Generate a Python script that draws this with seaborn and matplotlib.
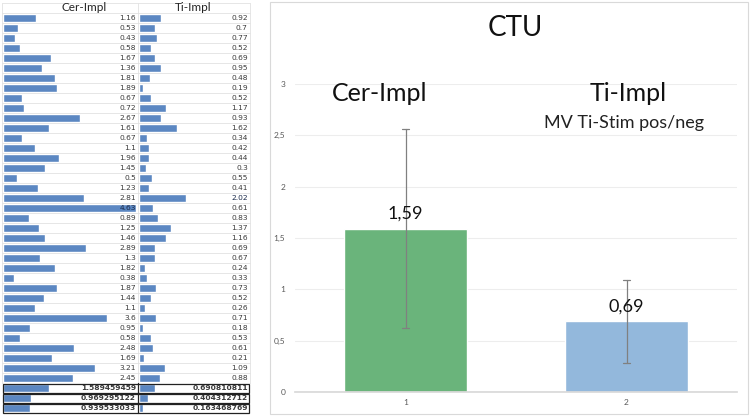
import numpy as np
import pandas as pd
import seaborn as sns
import matplotlib.pyplot as plt
from matplotlib.patches import Rectangle
from matplotlib.lines import Line2D
from matplotlib.ticker import FuncFormatter

cer_impl = [1.16, 0.53, 0.43, 0.58, 1.67, 1.36, 1.81, 1.89, 0.67, 0.72,
            2.67, 1.61, 0.67, 1.1, 1.96, 1.45, 0.5, 1.23, 2.81, 4.63,
            0.89, 1.25, 1.46, 2.89, 1.3, 1.82, 0.38, 1.87, 1.44, 1.1,
            3.6, 0.95, 0.58, 2.48, 1.69, 3.21, 2.45]
ti_impl = [0.92, 0.7, 0.77, 0.52, 0.69, 0.95, 0.48, 0.19, 0.52, 1.17,
           0.93, 1.62, 0.34, 0.42, 0.44, 0.3, 0.55, 0.41, 2.02, 0.61,
           0.83, 1.37, 1.16, 0.69, 0.67, 0.24, 0.33, 0.73, 0.52, 0.26,
           0.71, 0.18, 0.53, 0.61, 0.21, 1.09, 0.88]
cer_stats = [1.589459459, 0.969295122, 0.939533033]
ti_stats = [0.690810811, 0.404312712, 0.163468769]
col_names = ['Cer-Impl', 'Ti-Impl']
groups = ['1', '2']

sns.set_theme(style='white')
plt.rcParams['font.family'] = ['Lato', 'DejaVu Sans']

W, H = 750, 417
fig = plt.figure(figsize=(7.5, 4.17), dpi=100)


def px_axes(x0, y0, x1, y1):
    return fig.add_axes([x0 / W, 1 - y1 / H, (x1 - x0) / W, (y1 - y0) / H])


def fig_line(x0, y0, x1, y1, color='#E2E2E2', lw=0.6):
    fig.add_artist(Line2D([x0 / W, x1 / W], [1 - y0 / H, 1 - y1 / H],
                          transform=fig.transFigure, color=color, lw=lw))


# ---- left: spreadsheet with data bars ----
n = len(cer_impl)
tbl_blue = '#5B87C2'
for k in range(n + 1):
    fig_line(2, 13 + 10 * k, 250, 13 + 10 * k)
for x in [2, 137.5, 249.5]:
    fig_line(x, 3, x, 383)
fig_line(2, 3, 250, 3)

columns = [(cer_impl + cer_stats, 3, 137, 4.66, 0.992),
           (ti_impl + ti_stats, 139, 250, 4.74, 0.98)]
for (vals, x0, x1, xmax, tx) in columns:
    ax = px_axes(x0, 13, x1, 413)
    d = pd.DataFrame({'row': np.arange(len(vals)), 'val': vals})
    sns.barplot(data=d, x='val', y='row', orient='h', color=tbl_blue,
                width=0.78, saturation=1, ax=ax)
    ax.set_xlim(0, xmax)
    ax.set_ylim(len(vals) - 0.5, -0.5)
    ax.axis('off')
    for i, v in enumerate(vals):
        if i < n:
            s, w = f'{v:g}', 'normal'
        else:
            s, w = f'{v:.9f}', 'bold'
        c = '#1A2A4A' if v == max(vals) else '#3A3A3A'
        ax.text(tx, i, s, transform=ax.get_yaxis_transform(), ha='right',
                va='center', fontsize=5.4, fontweight=w, color=c,
                family='DejaVu Sans', zorder=5)

for k in range(3):
    y0 = 383.5 + 10 * k
    fig.add_artist(Rectangle((2.5 / W, 1 - (y0 + 9.5) / H), 246 / W, 9.5 / H,
                             transform=fig.transFigure, fill=False,
                             edgecolor='#222222', lw=0.9))
fig_line(137.5, 383, 137.5, 413, color='#222222', lw=0.9)

fig.text(84 / W, 1 - 7.5 / H, col_names[0], ha='center', va='center',
         fontsize=8.5, color='#222222')
fig.text(193 / W, 1 - 7.5 / H, col_names[1], ha='center', va='center',
         fontsize=8.5, color='#222222')

# ---- right: bar chart ----
fig.add_artist(Rectangle((270 / W, 1 - 414 / H), 478 / W, 412 / H,
                         transform=fig.transFigure, fill=False,
                         edgecolor='#D9D9D9', lw=0.8))

df = pd.DataFrame({'group': [groups[0]] * n + [groups[1]] * n,
                   'value': cer_impl + ti_impl})
ax = px_axes(295, 84, 737, 392)
sns.barplot(data=df, x='group', y='value', hue='group',
            palette=['#6AB47B', '#93B8DC'], errorbar='sd', capsize=0.035,
            width=0.56, saturation=1, legend=False,
            err_kws={'color': '#808080', 'linewidth': 0.9}, ax=ax)
ax.set_ylim(0, 3)
ax.set_xlim(-0.5, 1.5)
ax.set_yticks(np.arange(0, 3.01, 0.5))
ax.yaxis.set_major_formatter(FuncFormatter(lambda v, p: f'{v:g}'.replace('.', ',')))
ax.grid(axis='y', color='#EDEDED', lw=0.8)
ax.set_axisbelow(True)
for s in ['top', 'right', 'left']:
    ax.spines[s].set_visible(False)
ax.spines['bottom'].set_color('#D9D9D9')
ax.tick_params(length=0, labelsize=6, labelcolor='#595959')
ax.tick_params(axis='y', pad=7)
ax.tick_params(axis='x', pad=5)
ax.set_xlabel('')
ax.set_ylabel('')

means = df.groupby('group')['value'].mean()
for cont, g in zip(ax.containers, groups):
    ax.bar_label(cont, labels=[f'{means[g]:.2f}'.replace('.', ',')],
                 padding=5, fontsize=13, color='#111111')

ax.text(-0.115, 2.91, col_names[0], ha='center', va='center', fontsize=18,
        color='#111111', clip_on=False)
ax.text(1.007, 2.91, col_names[1], ha='center', va='center', fontsize=18,
        color='#111111', clip_on=False)
ax.text(0.99, 2.62, 'MV Ti-Stim pos/neg', ha='center', va='center',
        fontsize=13, color='#222222', clip_on=False)

fig.text(515 / W, 1 - 28 / H, 'CTU', ha='center', va='center', fontsize=20,
         color='#111111')

fig.savefig('out.png', dpi=100)
